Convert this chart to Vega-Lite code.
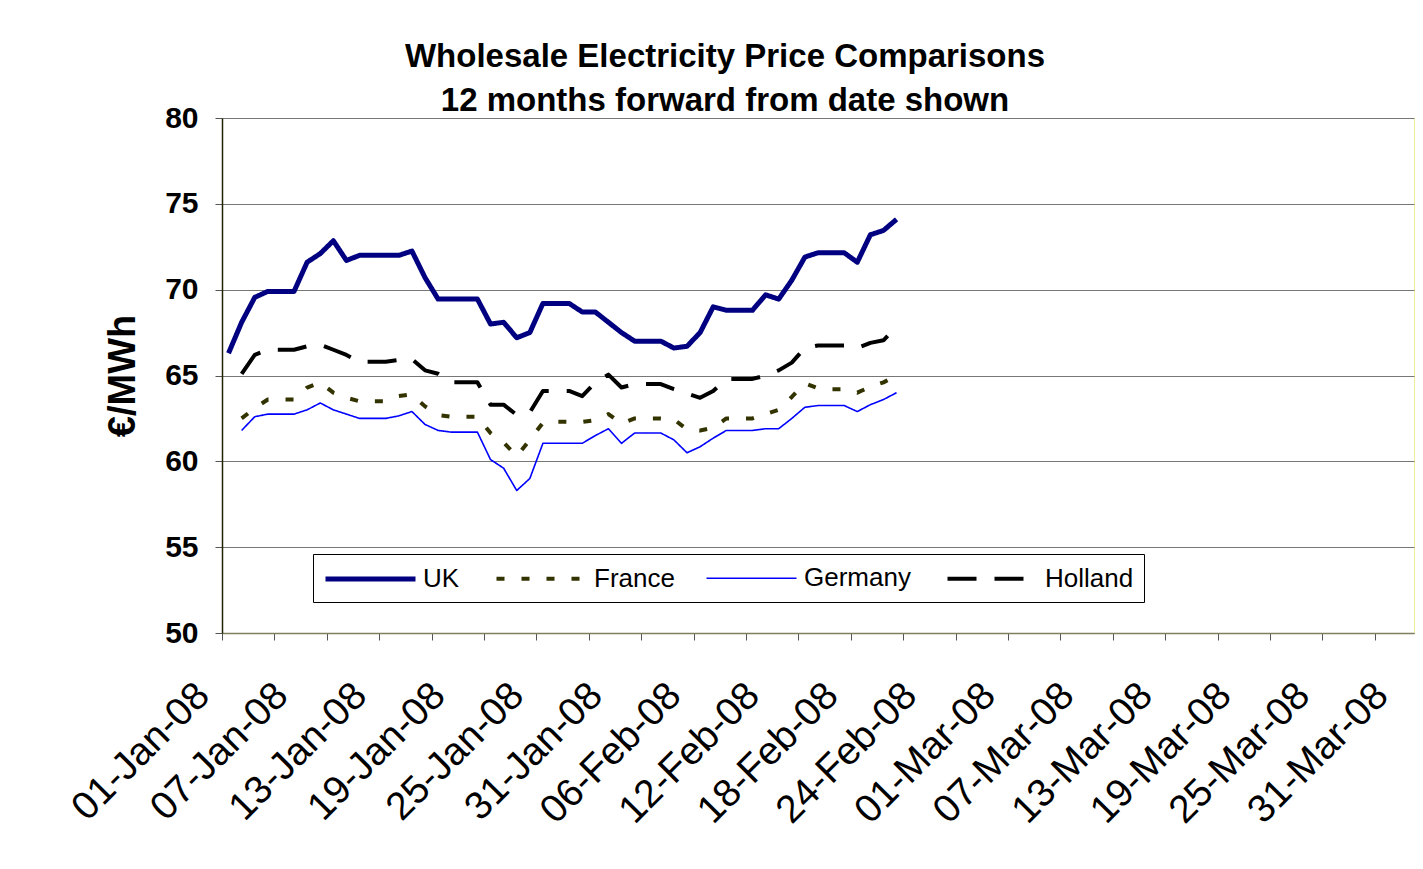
{
  "$schema": "https://vega.github.io/schema/vega-lite/v6.json",
  "width": 1192,
  "height": 515,
  "autosize": "none",
  "padding": {"left": 222, "top": 118, "right": 9, "bottom": 236},
  "background": "white",
  "title": {
    "text": ["Wholesale Electricity Price Comparisons", "12 months forward from date shown"],
    "font": "Liberation Sans",
    "fontSize": 33,
    "fontWeight": "bold",
    "color": "black",
    "anchor": "middle",
    "dx": -93,
    "offset": -15,
    "lineHeight": 44
  },
  "data": {
    "format": {"parse": {"date": "utc:'%Y-%m-%d'"}},
    "values": [
      {"date": "2008-01-01", "UK": 66.3},
      {"date": "2008-01-02", "UK": 68.1, "France": 62.5, "Germany": 61.8, "Holland": 65.1},
      {"date": "2008-01-03", "UK": 69.55, "France": 63.1, "Germany": 62.6, "Holland": 66.2},
      {"date": "2008-01-04", "UK": 69.9, "France": 63.6, "Germany": 62.75, "Holland": 66.5},
      {"date": "2008-01-05", "UK": 69.9, "France": 63.6, "Germany": 62.75, "Holland": 66.5},
      {"date": "2008-01-06", "UK": 69.9, "France": 63.6, "Germany": 62.75, "Holland": 66.5},
      {"date": "2008-01-07", "UK": 71.6, "France": 64.3, "Germany": 63.0, "Holland": 66.7},
      {"date": "2008-01-08", "UK": 72.1, "France": 64.6, "Germany": 63.4, "Holland": 66.8},
      {"date": "2008-01-09", "UK": 72.85, "France": 64.0, "Germany": 63.0, "Holland": 66.5},
      {"date": "2008-01-10", "UK": 71.7, "France": 63.7, "Germany": 62.75, "Holland": 66.2},
      {"date": "2008-01-11", "UK": 72.0, "France": 63.5, "Germany": 62.5, "Holland": 65.8},
      {"date": "2008-01-12", "UK": 72.0, "France": 63.5, "Germany": 62.5, "Holland": 65.8},
      {"date": "2008-01-13", "UK": 72.0, "France": 63.5, "Germany": 62.5, "Holland": 65.8},
      {"date": "2008-01-14", "UK": 72.0, "France": 63.8, "Germany": 62.65, "Holland": 65.9},
      {"date": "2008-01-15", "UK": 72.25, "France": 63.9, "Germany": 62.9, "Holland": 65.95},
      {"date": "2008-01-16", "UK": 70.7, "France": 63.2, "Germany": 62.15, "Holland": 65.3},
      {"date": "2008-01-17", "UK": 69.45, "France": 62.7, "Germany": 61.8, "Holland": 65.1},
      {"date": "2008-01-18", "UK": 69.45, "France": 62.6, "Germany": 61.7, "Holland": 64.6},
      {"date": "2008-01-19", "UK": 69.45, "France": 62.6, "Germany": 61.7, "Holland": 64.6},
      {"date": "2008-01-20", "UK": 69.45, "France": 62.6, "Germany": 61.7, "Holland": 64.6},
      {"date": "2008-01-21", "UK": 68.0, "France": 61.65, "Germany": 60.1, "Holland": 63.3},
      {"date": "2008-01-22", "UK": 68.1, "France": 61.1, "Germany": 59.6, "Holland": 63.3},
      {"date": "2008-01-23", "UK": 67.2, "France": 60.3, "Germany": 58.3, "Holland": 62.7},
      {"date": "2008-01-24", "UK": 67.5, "France": 61.25, "Germany": 59.0, "Holland": 62.85},
      {"date": "2008-01-25", "UK": 69.2, "France": 62.25, "Germany": 61.05, "Holland": 64.1},
      {"date": "2008-01-26", "UK": 69.2, "France": 62.3, "Germany": 61.05, "Holland": 64.1},
      {"date": "2008-01-27", "UK": 69.2, "France": 62.3, "Germany": 61.05, "Holland": 64.1},
      {"date": "2008-01-28", "UK": 68.7, "France": 62.3, "Germany": 61.05, "Holland": 63.8},
      {"date": "2008-01-29", "UK": 68.7, "France": 62.4, "Germany": 61.5, "Holland": 64.6},
      {"date": "2008-01-30", "UK": 68.1, "France": 62.75, "Germany": 61.9, "Holland": 65.05},
      {"date": "2008-01-31", "UK": 67.5, "France": 62.2, "Germany": 61.05, "Holland": 64.3},
      {"date": "2008-02-01", "UK": 67.0, "France": 62.5, "Germany": 61.65, "Holland": 64.5},
      {"date": "2008-02-02", "UK": 67.0, "France": 62.5, "Germany": 61.65, "Holland": 64.5},
      {"date": "2008-02-03", "UK": 67.0, "France": 62.5, "Germany": 61.65, "Holland": 64.5},
      {"date": "2008-02-04", "UK": 66.6, "France": 62.45, "Germany": 61.25, "Holland": 64.2},
      {"date": "2008-02-05", "UK": 66.7, "France": 61.85, "Germany": 60.5, "Holland": 63.95},
      {"date": "2008-02-06", "UK": 67.5, "France": 61.8, "Germany": 60.85, "Holland": 63.7},
      {"date": "2008-02-07", "UK": 69.0, "France": 61.95, "Germany": 61.35, "Holland": 64.1},
      {"date": "2008-02-08", "UK": 68.8, "France": 62.5, "Germany": 61.8, "Holland": 64.8},
      {"date": "2008-02-09", "UK": 68.8, "France": 62.5, "Germany": 61.8, "Holland": 64.8},
      {"date": "2008-02-10", "UK": 68.8, "France": 62.5, "Germany": 61.8, "Holland": 64.8},
      {"date": "2008-02-11", "UK": 69.7, "France": 62.75, "Germany": 61.9, "Holland": 65.0},
      {"date": "2008-02-12", "UK": 69.45, "France": 63.0, "Germany": 61.9, "Holland": 65.3},
      {"date": "2008-02-13", "UK": 70.55, "France": 63.75, "Germany": 62.5, "Holland": 65.75},
      {"date": "2008-02-14", "UK": 71.9, "France": 64.55, "Germany": 63.15, "Holland": 66.6},
      {"date": "2008-02-15", "UK": 72.15, "France": 64.25, "Germany": 63.25, "Holland": 66.75},
      {"date": "2008-02-16", "UK": 72.15, "France": 64.2, "Germany": 63.25, "Holland": 66.75},
      {"date": "2008-02-17", "UK": 72.15, "France": 64.2, "Germany": 63.25, "Holland": 66.75},
      {"date": "2008-02-18", "UK": 71.6, "France": 64.0, "Germany": 62.9, "Holland": 66.6},
      {"date": "2008-02-19", "UK": 73.2, "France": 64.35, "Germany": 63.3, "Holland": 66.9},
      {"date": "2008-02-20", "UK": 73.45, "France": 64.6, "Germany": 63.6, "Holland": 67.05},
      {"date": "2008-02-21", "UK": 74.1, "France": 65.0, "Germany": 64.0, "Holland": 67.85}
    ]
  },
  "transform": [
    {"fold": ["UK", "France", "Germany", "Holland"], "as": ["country", "price"]}
  ],
  "mark": {"type": "line", "strokeCap": "butt", "strokeJoin": "round"},
  "encoding": {
    "x": {
      "field": "date",
      "type": "temporal",
      "scale": {
        "type": "utc",
        "domain": [
          {"year": 2007, "month": 12, "date": 31, "hours": 12, "utc": true},
          {"year": 2008, "month": 3, "date": 31, "hours": 12, "utc": true}
        ]
      },
      "axis": {
        "title": null,
        "grid": false,
        "values": [
          {"year": 2007, "month": 12, "date": 31, "hours": 12, "utc": true},
          {"year": 2008, "month": 1, "date": 4, "hours": 12, "utc": true},
          {"year": 2008, "month": 1, "date": 8, "hours": 12, "utc": true},
          {"year": 2008, "month": 1, "date": 12, "hours": 12, "utc": true},
          {"year": 2008, "month": 1, "date": 16, "hours": 12, "utc": true},
          {"year": 2008, "month": 1, "date": 20, "hours": 12, "utc": true},
          {"year": 2008, "month": 1, "date": 24, "hours": 12, "utc": true},
          {"year": 2008, "month": 1, "date": 28, "hours": 12, "utc": true},
          {"year": 2008, "month": 2, "date": 1, "hours": 12, "utc": true},
          {"year": 2008, "month": 2, "date": 5, "hours": 12, "utc": true},
          {"year": 2008, "month": 2, "date": 9, "hours": 12, "utc": true},
          {"year": 2008, "month": 2, "date": 13, "hours": 12, "utc": true},
          {"year": 2008, "month": 2, "date": 17, "hours": 12, "utc": true},
          {"year": 2008, "month": 2, "date": 21, "hours": 12, "utc": true},
          {"year": 2008, "month": 2, "date": 25, "hours": 12, "utc": true},
          {"year": 2008, "month": 2, "date": 29, "hours": 12, "utc": true},
          {"year": 2008, "month": 3, "date": 4, "hours": 12, "utc": true},
          {"year": 2008, "month": 3, "date": 8, "hours": 12, "utc": true},
          {"year": 2008, "month": 3, "date": 12, "hours": 12, "utc": true},
          {"year": 2008, "month": 3, "date": 16, "hours": 12, "utc": true},
          {"year": 2008, "month": 3, "date": 20, "hours": 12, "utc": true},
          {"year": 2008, "month": 3, "date": 24, "hours": 12, "utc": true},
          {"year": 2008, "month": 3, "date": 28, "hours": 12, "utc": true},
          {"year": 2008, "month": 1, "date": 1, "utc": true},
          {"year": 2008, "month": 1, "date": 7, "utc": true},
          {"year": 2008, "month": 1, "date": 13, "utc": true},
          {"year": 2008, "month": 1, "date": 19, "utc": true},
          {"year": 2008, "month": 1, "date": 25, "utc": true},
          {"year": 2008, "month": 1, "date": 31, "utc": true},
          {"year": 2008, "month": 2, "date": 6, "utc": true},
          {"year": 2008, "month": 2, "date": 12, "utc": true},
          {"year": 2008, "month": 2, "date": 18, "utc": true},
          {"year": 2008, "month": 2, "date": 24, "utc": true},
          {"year": 2008, "month": 3, "date": 1, "utc": true},
          {"year": 2008, "month": 3, "date": 7, "utc": true},
          {"year": 2008, "month": 3, "date": 13, "utc": true},
          {"year": 2008, "month": 3, "date": 19, "utc": true},
          {"year": 2008, "month": 3, "date": 25, "utc": true},
          {"year": 2008, "month": 3, "date": 31, "utc": true}
        ],
        "labelExpr": "utchours(datum.value) == 12 ? '' : utcFormat(datum.value, '%d-%b-%y')",
        "tickOpacity": {"condition": {"test": "utchours(datum.value) == 12", "value": 1}, "value": 0},
        "tickColor": "#555555",
        "tickSize": 7,
        "tickWidth": 1,
        "domainColor": "#7F7F60",
        "domainWidth": 1.5,
        "labelAngle": -45,
        "labelAlign": "right",
        "labelBaseline": "middle",
        "labelOffset": -26,
        "labelPadding": 49,
        "labelFont": "Liberation Sans",
        "labelFontSize": 39,
        "labelColor": "black",
        "labelOverlap": false,
        "labelBound": false,
        "labelFlush": false
      }
    },
    "y": {
      "field": "price",
      "type": "quantitative",
      "scale": {"domain": [50, 80], "nice": false, "zero": false},
      "axis": {
        "title": "€/MWh",
        "titleFont": "Liberation Sans",
        "titleFontSize": 38,
        "titleFontWeight": "bold",
        "titleColor": "black",
        "titlePadding": 22,
        "values": [50, 55, 60, 65, 70, 75, 80],
        "grid": true,
        "gridColor": "#777777",
        "gridWidth": 1,
        "domainColor": "#222200",
        "domainWidth": 1.5,
        "tickColor": "#555555",
        "tickSize": 7,
        "labelFont": "Liberation Sans",
        "labelFontSize": 30,
        "labelFontWeight": "bold",
        "labelColor": "black",
        "labelPadding": 17
      }
    },
    "color": {
      "field": "country",
      "type": "nominal",
      "scale": {
        "domain": ["UK", "France", "Germany", "Holland"],
        "range": ["#000080", "#333300", "#0000FF", "#000000"]
      },
      "legend": {
        "orient": "none",
        "legendX": 91,
        "legendY": 436,
        "direction": "horizontal",
        "columns": 4,
        "title": null,
        "strokeColor": "black",
        "fillColor": "white",
        "padding": 10,
        "symbolType": "M-1,0H6.2",
        "symbolSize": 625,
        "labelFont": "Liberation Sans",
        "labelFontSize": 26,
        "labelColor": "black",
        "labelOffset": 70,
        "labelLimit": 0,
        "columnPadding": 28
      }
    },
    "strokeDash": {
      "field": "country",
      "type": "nominal",
      "scale": {
        "domain": ["UK", "France", "Germany", "Holland"],
        "range": [[1, 0], [8, 17], [1, 0], [29, 18]]
      },
      "legend": {
        "orient": "none",
        "legendX": 91,
        "legendY": 436,
        "direction": "horizontal",
        "columns": 4,
        "title": null
      }
    },
    "strokeWidth": {
      "field": "country",
      "type": "nominal",
      "scale": {
        "type": "ordinal",
        "domain": ["UK", "France", "Germany", "Holland"],
        "range": [5, 4, 1.6, 4]
      },
      "legend": {
        "orient": "none",
        "legendX": 91,
        "legendY": 436,
        "direction": "horizontal",
        "columns": 4,
        "title": null
      }
    }
  },
  "config": {
    "view": {"stroke": "#EEEE99", "strokeWidth": 1}
  }
}
